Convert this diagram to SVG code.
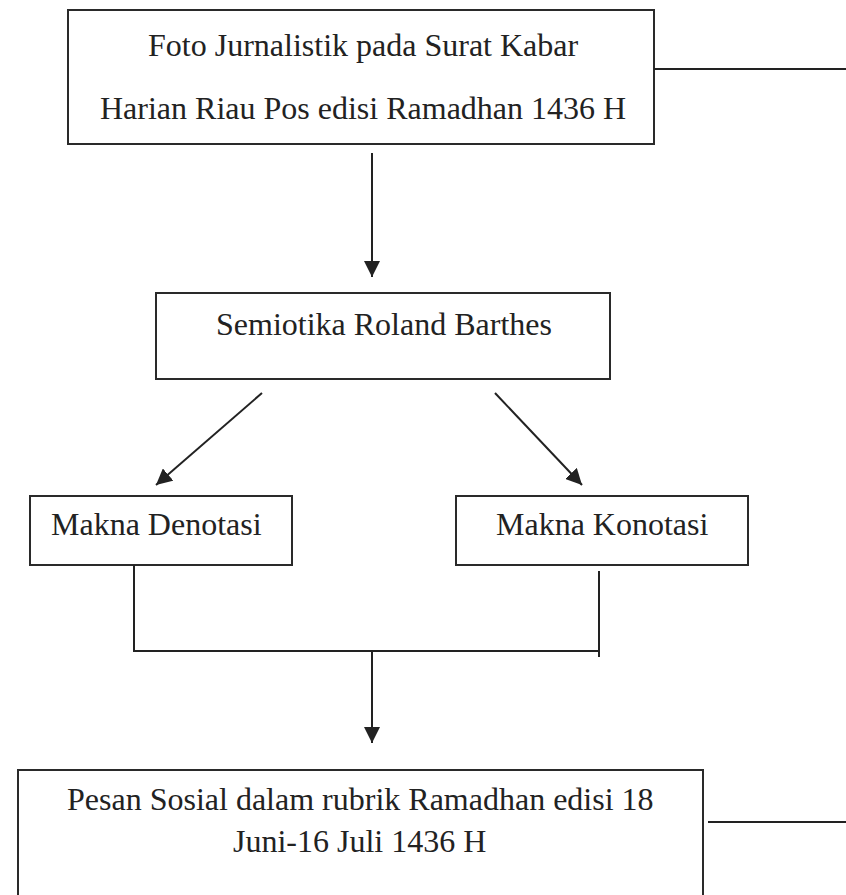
<svg xmlns="http://www.w3.org/2000/svg" width="846" height="895" viewBox="0 0 846 895">
<defs>
<style>
.box{fill:none;stroke:#2a2a2a;stroke-width:2}
.t{font-family:"Liberation Serif","Times New Roman",serif;font-size:32px;fill:#222}
.ln{fill:none;stroke:#222;stroke-width:2}
</style>
<marker id="ah" viewBox="0 0 16 16" markerWidth="16" markerHeight="16" refX="16" refY="8" orient="auto" markerUnits="userSpaceOnUse">
<path d="M0,0 L16,8 L0,16 z" fill="#222"/>
</marker>
</defs>
<rect width="846" height="895" fill="#fff"/>
<g id="node-foto">
<rect class="box" x="68" y="10" width="586" height="134"/>
<text class="t" x="148" y="56">Foto Jurnalistik pada Surat Kabar</text>
<text class="t" x="100" y="119">Harian Riau Pos edisi Ramadhan 1436 H</text>
</g>
<g id="node-semiotika">
<rect class="box" x="156" y="293" width="454" height="86"/>
<text class="t" x="216" y="335">Semiotika Roland Barthes</text>
</g>
<g id="node-denotasi">
<rect class="box" x="30" y="496" width="262" height="69"/>
<text class="t" x="51" y="535">Makna Denotasi</text>
</g>
<g id="node-konotasi">
<rect class="box" x="456" y="496" width="292" height="69"/>
<text class="t" x="496" y="535">Makna Konotasi</text>
</g>
<g id="node-pesan">
<rect class="box" x="18" y="770" width="685" height="140"/>
<text class="t" x="67" y="810">Pesan Sosial dalam rubrik Ramadhan edisi 18</text>
<text class="t" x="233" y="852">Juni-16 Juli 1436 H</text>
</g>
<g id="connectors">
<line class="ln" x1="654" y1="69" x2="846" y2="69"/>
<line class="ln" x1="708" y1="822" x2="846" y2="822"/>
<line class="ln" x1="372" y1="153" x2="372" y2="277" marker-end="url(#ah)"/>
<line class="ln" x1="262" y1="393" x2="156" y2="485" marker-end="url(#ah)"/>
<line class="ln" x1="495" y1="393" x2="582" y2="485" marker-end="url(#ah)"/>
<polyline class="ln" points="134,565 134,651 599,651"/>
<line class="ln" x1="599" y1="571" x2="599" y2="657"/>
<line class="ln" x1="372" y1="651" x2="372" y2="743" marker-end="url(#ah)"/>
</g>
</svg>
